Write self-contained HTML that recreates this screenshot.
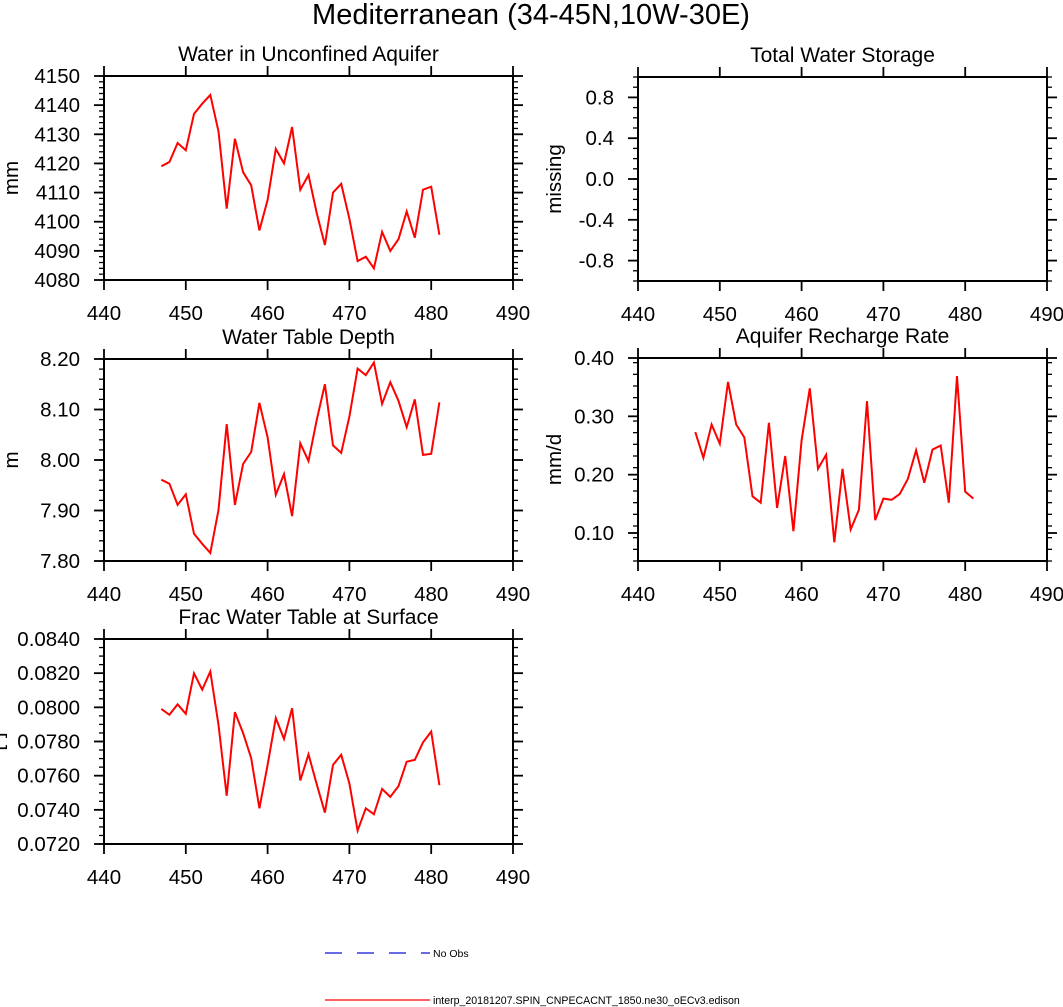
<!DOCTYPE html>
<html><head><meta charset="utf-8"><style>
html,body{margin:0;padding:0;background:#fff;}
svg{display:block;font-family:"Liberation Sans",Arial,sans-serif;}
</style></head><body>
<svg id="chart" width="1063" height="1007" viewBox="0 0 1063 1007" xmlns="http://www.w3.org/2000/svg">
<text x="531" y="24" font-size="29" text-anchor="middle">Mediterranean (34-45N,10W-30E)</text>
<g>
<line x1="325" y1="953" x2="430" y2="953" stroke="#1010d0" stroke-width="1.3" stroke-dasharray="17,15"/>
<text x="433" y="957" font-size="10.5">No Obs</text>
<line x1="325" y1="1000" x2="430" y2="1000" stroke="#f00" stroke-width="1.3"/>
<text x="433" y="1004" font-size="10.6">interp_20181207.SPIN_CNPECACNT_1850.ne30_oECv3.edison</text>
</g>
</svg>
<script>
const years = [447,448,449,450,451,452,453,454,455,456,457,458,459,460,461,462,463,464,465,466,467,468,469,470,471,472,473,474,475,476,477,478,479,480,481];
const xTicks = [440,450,460,470,480,490];
const aquiferMm = [4119,4120.5,4127,4124.5,4137,4140.5,4143.5,4131,4104.5,4128.5,4117,4112.5,4097,4107.5,4125,4120,4132.5,4111,4116,4103,4092,4110,4113,4101,4086.5,4088,4084,4096.5,4090,4094,4103.5,4094.5,4111,4112,4095.5];
const aquiferTicks = [4080,4090,4100,4110,4120,4130,4140,4150];
const twsTicks = [-0.8,-0.4,0.0,0.4,0.8];
const wtdM = [7.961,7.953,7.911,7.932,7.854,7.834,7.816,7.901,8.071,7.911,7.992,8.016,8.113,8.045,7.931,7.972,7.889,8.033,7.998,8.079,8.150,8.029,8.014,8.086,8.181,8.168,8.193,8.111,8.154,8.117,8.065,8.120,8.010,8.012,8.114];
const wtdTicks = [7.80,7.90,8.00,8.10,8.20];
const rechargeMmd = [0.273,0.229,0.286,0.253,0.359,0.286,0.264,0.163,0.152,0.289,0.143,0.232,0.103,0.259,0.348,0.210,0.234,0.084,0.210,0.106,0.140,0.326,0.122,0.159,0.157,0.167,0.193,0.242,0.186,0.243,0.250,0.152,0.369,0.171,0.159];
const rechargeTicks = [0.10,0.20,0.30,0.40];
const fracWt = [0.07991,0.07956,0.08018,0.07962,0.08199,0.08103,0.08210,0.07897,0.07482,0.07972,0.07849,0.07702,0.07409,0.07663,0.07937,0.07815,0.07995,0.07572,0.07725,0.07550,0.07384,0.07663,0.07722,0.07554,0.07278,0.07409,0.07374,0.07522,0.07476,0.07539,0.07682,0.07692,0.07795,0.07858,0.07544];
const fracTicks = [0.0720,0.0740,0.0760,0.0780,0.0800,0.0820,0.0840];

const NS='http://www.w3.org/2000/svg';
const svg=document.getElementById('chart');
function mk(tag,attrs,parent){const e=document.createElementNS(NS,tag);for(const k in attrs)e.setAttribute(k,attrs[k]);(parent||svg).appendChild(e);return e;}

function panel(o){
  const g=mk('g',{});
  
  
  const L=o.L,R=o.R,T=o.T,B=o.B;
  const sx=v=>L+(v-440)/(490-440)*(R-L);
  const sy=v=>B-(v-o.ymin)/(o.ymax-o.ymin)*(B-T);
  const t=mk('text',{x:(L+R)/2,y:T-15,'font-size':21,'text-anchor':'middle'},g);
  t.textContent=o.title;
  
  
  const yl=mk('text',{x:0,y:0,'font-size':20.5,'text-anchor':'middle',transform:`translate(${o.ylx},${(T+B)/2}) rotate(-90)`},g);
  yl.textContent=o.ylabel;
  
  
  for(let v=o.ymin;v<=o.ymax+1e-9;v+=o.minor){
    const y=sy(v);
    mk('line',{x1:L-5,y1:y,x2:L,y2:y,stroke:'#000','stroke-width':1.3},g);
    mk('line',{x1:R,y1:y,x2:R+5,y2:y,stroke:'#000','stroke-width':1.3},g);
  }
  o.yticks.forEach(v=>{
    const y=sy(v);
    mk('line',{x1:L-10,y1:y,x2:L,y2:y,stroke:'#000','stroke-width':1.8},g);
    mk('line',{x1:R,y1:y,x2:R+10,y2:y,stroke:'#000','stroke-width':1.8},g);
    const tl=mk('text',{x:L-24,y:y+7,'font-size':20.5,'text-anchor':'end'},g);
    tl.textContent=v.toFixed(o.dec);
    
    
  });
  xTicks.forEach(v=>{
    const x=sx(v);
    mk('line',{x1:x,y1:T-10,x2:x,y2:T,stroke:'#000','stroke-width':1.8},g);
    mk('line',{x1:x,y1:B,x2:x,y2:B+10,stroke:'#000','stroke-width':1.8},g);
    const tl=mk('text',{x:x,y:B+40,'font-size':20.5,'text-anchor':'middle'},g);
    tl.textContent=String(v);
    
    
  });
  const fr=mk('rect',{x:L,y:T,width:R-L,height:B-T,fill:'none',stroke:'#000','stroke-width':2},g);
  
  
  if(o.data){
    const pts=o.data.map((v,i)=>sx(years[i]).toFixed(1)+','+sy(v).toFixed(1)).join(' ');
    const pl=mk('polyline',{points:pts,fill:'none',stroke:'#f00','stroke-width':2,'stroke-linejoin':'miter'},g);
    
    
  }
}
panel({name:'panel-water-unconfined-aquifer',title:'Water in Unconfined Aquifer',ylabel:'mm',ylx:18,L:104,R:513,T:76,B:280,ymin:4080,ymax:4150,minor:2,yticks:aquiferTicks,dec:0,data:aquiferMm});
panel({name:'panel-total-water-storage',title:'Total Water Storage',ylabel:'missing',ylx:561,L:638,R:1047,T:77,B:281,ymin:-1,ymax:1,minor:0.1,yticks:twsTicks,dec:1,data:null});
panel({name:'panel-water-table-depth',title:'Water Table Depth',ylabel:'m',ylx:18,L:104,R:513,T:359,B:561,ymin:7.80,ymax:8.20,minor:0.02,yticks:wtdTicks,dec:2,data:wtdM});
panel({name:'panel-aquifer-recharge-rate',title:'Aquifer Recharge Rate',ylabel:'mm/d',ylx:561,L:638,R:1047,T:358,B:561,ymin:0.052,ymax:0.40,minor:0.02,yticks:rechargeTicks,dec:2,data:rechargeMmd});
panel({name:'panel-frac-water-table-surface',title:'Frac Water Table at Surface',ylabel:'[-]',ylx:3,L:104,R:513,T:639,B:844,ymin:0.0720,ymax:0.0840,minor:0.0005,yticks:fracTicks,dec:4,data:fracWt});
</script>
</body></html>
